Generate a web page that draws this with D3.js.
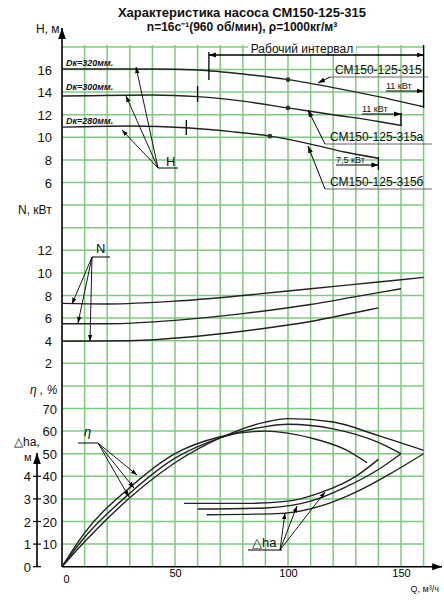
<!DOCTYPE html><html><head><meta charset="utf-8"><script src="https://cdn.jsdelivr.net/npm/d3@7"></script>
<style>body{margin:0;background:#fff}text{font-family:Arial,"Liberation Sans",sans-serif}</style></head><body>
<svg id="c" width="444" height="600"></svg>
<script>
const qTicks=[0,50,100,150];
const hTicks=[6,8,10,12,14,16];
const nTicks=[2,4,6,8,10,12];
const etaTicks=[10,20,30,40,50,60,70];
const dhTicks=[0,1,2,3,4];
const H315=[[0,16.05],[40,16.05],[60,15.95],[80,15.6],[100,15.1],[120,14.4],[140,13.6],[160,12.7]];
const H315a=[[0,13.65],[40,13.75],[60,13.6],[80,13.2],[100,12.6],[120,12.0],[140,11.4],[150,11.05]];
const H315b=[[0,10.9],[30,11.0],[55,10.85],[75,10.5],[92,10.1],[110,9.4],[125,8.7],[140,8.15]];
const N315=[[0,7.3],[20,7.25],[50,7.5],[80,8.0],[110,8.6],[140,9.2],[160,9.6]];
const N315a=[[0,5.5],[20,5.5],[50,5.8],[80,6.4],[110,7.2],[130,7.9],[150,8.6]];
const N315b=[[0,3.95],[30,4.0],[60,4.4],[90,5.1],[110,5.7],[130,6.5],[140,6.9]];
const E315=[[0,0],[10,11],[30,30.5],[50,46],[70,57],[90,64],[100,65.5],[120,64],[140,58],[160,51.5]];
const E315a=[[0,0],[10,13],[30,32.5],[50,48],[70,57],[90,62],[100,63],[120,61],[140,55],[150,50]];
const E315b=[[0,0],[10,15],[30,35],[50,50],[70,57.5],[90,60],[110,57],[125,52],[135,46]];
const D315b=[[54,2.8],[80,2.8],[100,2.9],[115,3.3],[130,4.0],[140,4.75]];
const D315a=[[60,2.55],[90,2.6],[110,2.9],[125,3.5],[140,4.3],[150,5.0]];
const D315=[[64,2.3],[95,2.35],[115,2.7],[130,3.3],[145,4.1],[160,5.0]];

const svg=d3.select("#c");
const g=22.6, y0=566.7;
const x=d3.scaleLinear().domain([0,160]).range([62,423.6]);
const yE=d3.scaleLinear().domain([0,10]).range([y0,y0-g]);
const yD=d3.scaleLinear().domain([0,1]).range([y0,y0-g]);
const yN=d3.scaleLinear().domain([0,2]).range([y0-8*g,y0-9*g]);
const yH=d3.scaleLinear().domain([0,2]).range([y0-14*g,y0-15*g]);
const green="#80c880";
const defs=svg.append("defs");
defs.append("marker").attr("id","ar").attr("viewBox","0 0 10 10").attr("refX",10).attr("refY",5).attr("markerWidth",7).attr("markerHeight",7).attr("orient","auto-start-reverse").append("path").attr("d","M0,1.5L10,5L0,8.5z").attr("fill","#000");
for(let i=1;i<=16;i++) svg.append("line").attr("x1",x(i*10)).attr("x2",x(i*10)).attr("y1",45).attr("y2",y0).attr("stroke",green).attr("stroke-width",1.5);
for(let k=1;k<=23;k++) svg.append("line").attr("x1",62).attr("x2",x(160)).attr("y1",y0-k*g).attr("y2",y0-k*g).attr("stroke",green).attr("stroke-width",1.5);
const ln=(x1,y1,x2,y2,w=1.2,m=false,c="#000")=>{const l=svg.append("line").attr("x1",x1).attr("y1",y1).attr("x2",x2).attr("y2",y2).attr("stroke",c).attr("stroke-width",w);if(m)l.attr("marker-end","url(#ar)");return l;};
const tx=(s,a,b,o={})=>{const t=svg.append("text").attr("x",a).attr("y",b).attr("font-size",o.fs||13).attr("fill","#111").text(s);if(o.a)t.attr("text-anchor",o.a);if(o.b)t.attr("font-weight","bold");if(o.i)t.attr("font-style","italic");return t;};
ln(62,y0,62,28,1.6,true);
ln(62,y0,442,y0,1.4,true);
ln(37,y0,37,453,1.6,true);
svg.append("g").attr("transform",`translate(0,${y0})`).call(d3.axisBottom(x).tickValues(qTicks).tickSize(0).tickPadding(10)).call(a=>a.select(".domain").remove()).selectAll("text").attr("font-size",11).attr("dx",(d,i)=>i==0?4:0).attr("dy",(d,i)=>i==0?6:0);
tx("Q, м³/ч",439,592,{fs:9,a:"end"});
hTicks.forEach(v=>tx(v,52,yH(v)+5,{a:"end"}));
nTicks.forEach(v=>tx(v,52,yN(v)+5,{a:"end"}));
etaTicks.forEach(v=>tx(v,57,yE(v)+5,{a:"end"}));
dhTicks.forEach(v=>{tx(v,31,yD(v)+5,{a:"end"});ln(33,yD(v),41,yD(v),1.2);});
tx("H, м",36,33,{fs:12});
tx("N, кВт",18,214,{fs:12});
tx("η , %",30,394,{fs:12,i:true});
tx("△hа,",14,446,{fs:12});
tx("м",24,461,{fs:11});
tx("Характеристика насоса СМ150-125-315",242,17,{b:true,a:"middle",fs:13});
tx("n=16с⁻¹(960 об/мин), ρ=1000кг/м³",242,31,{b:true,a:"middle",fs:12});
const line=ys=>d3.line().x(d=>x(d[0])).y(d=>ys(d[1])).curve(d3.curveMonotoneX);
const draw=(d,ys)=>svg.append("path").attr("d",line(ys)(d)).attr("fill","none").attr("stroke","#222").attr("stroke-width",1.4);
[H315,H315a,H315b].forEach(d=>draw(d,yH));
[N315,N315a,N315b].forEach(d=>draw(d,yN));
[E315,E315a,E315b].forEach(d=>draw(d,yE));
[D315,D315a,D315b].forEach(d=>draw(d,yD));
[[100,15.1],[100,12.6],[92,10.1]].forEach(p=>svg.append("circle").attr("cx",x(p[0])).attr("cy",yH(p[1])).attr("r",2.3).attr("fill","#333"));
ln(x(65),52,x(65),80,1.3); ln(x(60),86,x(60),102,1.3); ln(x(55),120,x(55),135,1.3);
ln(x(160),45,x(160),108,1.3); ln(x(150),113,x(150),126,1.3); ln(x(140),157,x(140),170,1.3);
ln(x(65),55,x(160),55,1,true); ln(x(160),55,x(65),55,1,true);
svg.append("rect").attr("x",248).attr("y",42).attr("width",108).attr("height",12).attr("fill","#fff");
tx("Рабочий интервал",302,53,{a:"middle",fs:12});
const lab=(s,a,b,ux1,ux2,px,py)=>{tx(s,a,b,{fs:12});ln(ux1,b+3,ux2,b+3,1,false,"#666");ln(ux1,b+3,px,py,1,true);};
lab("СМ150-125-315",335,74,330,428,318,83);
lab("СМ150-125-315а",330,141,325,432,308,110);
lab("СМ150-125-315б",330,186,325,432,308,146);
const kw=(s,a,b,x2)=>{tx(s,a,b,{fs:9});ln(a,b+2,x2,b+2,1,true);};
kw("11 кВт",386,89,x(160)); kw("11 кВт",362,112,x(150)); kw("7,5 кВт",336,163,x(140));
tx("Dк=320мм.",66,66,{fs:9,i:true,b:true});
tx("Dк=300мм.",66,90,{fs:9,i:true,b:true});
tx("Dк=280мм.",66,124,{fs:9,i:true,b:true});
tx("H",166,166,{fs:13}); ln(158,168,178,168,1);
[[136,67],[126,96],[122,130]].forEach(p=>ln(158,168,p[0],p[1],0.9,true));
tx("N",96,253,{fs:13}); ln(92,257,110,257,1);
[[72,304],[78,323],[90,341]].forEach(p=>ln(92,257,p[0],p[1],0.9,true));
tx("η",84,436,{fs:13,i:true}); ln(78,443,98,443,1);
[[137,475],[134,488],[129,497]].forEach(p=>ln(98,443,p[0],p[1],0.9,true));
tx("△hа",252,547,{fs:13}); ln(248,550,282,550,1);
[[285,513],[297,506],[325,492]].forEach(p=>ln(280,550,p[0],p[1],0.9,true));
</script></body></html>
